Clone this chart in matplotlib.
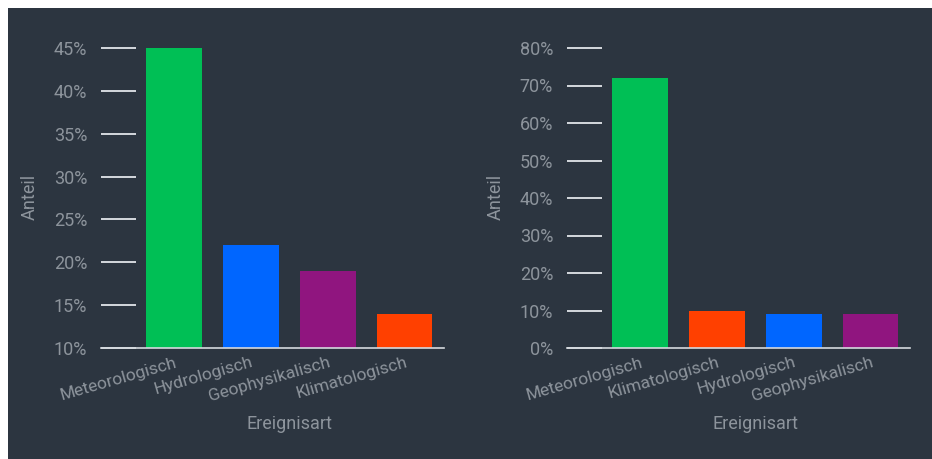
import matplotlib
matplotlib.use("Agg")
import matplotlib.pyplot as plt
from matplotlib.patches import Rectangle
from matplotlib.ticker import FuncFormatter

# data
left_cats = ["Meteorologisch", "Hydrologisch", "Geophysikalisch", "Klimatologisch"]
left_vals = [45, 22, 19, 14]
left_cols = ["#00bf55", "#0066ff", "#90157f", "#ff4000"]
left_ticks = [10, 15, 20, 25, 30, 35, 40, 45]

right_cats = ["Meteorologisch", "Klimatologisch", "Hydrologisch", "Geophysikalisch"]
right_vals = [72, 10, 9, 9]
right_cols = ["#00bf55", "#ff4000", "#0066ff", "#90157f"]
right_ticks = [0, 10, 20, 30, 40, 50, 60, 70, 80]

BG = "#2c3540"
TXT = "#8d949c"
LINE = "#d5d9de"
FS = 13

plt.rcParams['font.family'] = ['Roboto', 'DejaVu Sans']

W, H = 932, 459
fig = plt.figure(figsize=(W / 100, H / 100), dpi=100)
fig.patch.set_facecolor("white")
fig.patches.append(Rectangle((8 / W, 0), 1 - 8 / W, 1 - 8 / H,
                             transform=fig.transFigure, facecolor=BG,
                             edgecolor="none", zorder=-10))


def panel(x0, cats, vals, cols, ticks, ymin, ymax):
    ax = fig.add_axes([x0 / W, 1 - 348 / H, 343 / W, 300 / H])
    ax.set_facecolor("none")
    ax.bar(range(len(cats)), vals, width=0.72, color=cols, bottom=0)
    ax.set_ylim(ymin, ymax)
    ax.set_xlim(-0.95, 3.51)
    ax.set_yticks(ticks)
    ax.yaxis.set_major_formatter(FuncFormatter(lambda v, p: "%d%%" % v))
    ax.tick_params(axis="y", direction="in", length=25, width=1.4,
                   color=LINE, labelcolor=TXT, labelsize=FS, pad=10)
    ax.set_xticks(range(len(cats)))
    ax.set_xticklabels(cats, rotation=16, ha="right", va="top",
                       rotation_mode="anchor", color=TXT, fontsize=12.5)
    ax.tick_params(axis="x", length=0, pad=5)
    for s in ["top", "right", "left"]:
        ax.spines[s].set_visible(False)
    ax.spines["bottom"].set_color(LINE)
    ax.spines["bottom"].set_linewidth(1.2)
    ax.text(-0.207, 0.503, "Anteil", rotation=90, ha="center", va="center",
            color=TXT, fontsize=FS, transform=ax.transAxes)
    ax.text(0.551, -0.253, "Ereignisart", ha="center", va="center",
            color=TXT, fontsize=FS, transform=ax.transAxes)
    return ax


panel(101, left_cats, left_vals, left_cols, left_ticks, 10, 45)
panel(567, right_cats, right_vals, right_cols, right_ticks, 0, 80)

fig.savefig("out.png", dpi=100, facecolor=fig.get_facecolor())
